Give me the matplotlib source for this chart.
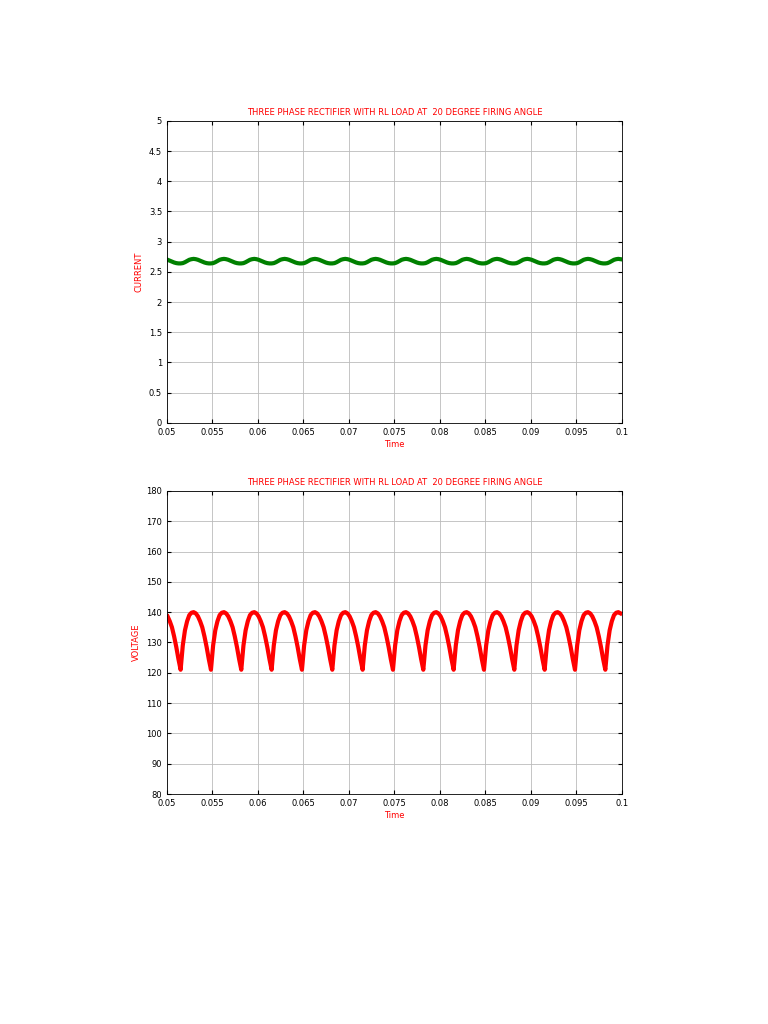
import numpy as np
import matplotlib.pyplot as plt

# one ripple cycle (phase from the cusp minimum), period ~1/300 s
period = 1 / 300.0
t_first_min = 0.0515
volt_cycle = [121, 129, 134, 137, 139, 139.8, 140, 139.6, 138.6, 137, 135, 132, 128.5, 124.5, 121]
curr_cycle = [2.64, 2.645, 2.66, 2.68, 2.70, 2.71, 2.715, 2.71, 2.70, 2.685, 2.67, 2.655, 2.645, 2.64, 2.64]

title = 'THREE PHASE RECTIFIER WITH RL LOAD AT  20 DEGREE FIRING ANGLE'
xticks = [0.05, 0.055, 0.06, 0.065, 0.07, 0.075, 0.08, 0.085, 0.09, 0.095, 0.1]
xlabels = ['0.05', '0.055', '0.06', '0.065', '0.07', '0.075', '0.08', '0.085', '0.09', '0.095', '0.1']


def build(cycle):
    ph = np.linspace(0, 1, len(cycle))
    ts, vs = [], []
    for k in range(-1, 16):
        t0 = t_first_min + k * period
        ts.extend(t0 + ph[:-1] * period)
        vs.extend(cycle[:-1])
    ts = np.array(ts)
    vs = np.array(vs)
    m = (ts >= 0.05) & (ts <= 0.1)
    return ts[m], vs[m]


fig = plt.figure(figsize=(7.68, 10.24), dpi=100)
ax1 = fig.add_axes([0.2174, 0.587, 0.5925, 0.295])
ax2 = fig.add_axes([0.2174, 0.2246, 0.5925, 0.296])

t, c = build(curr_cycle)
ax1.plot(t, c, color='green', lw=3)
ax1.set_ylim(0, 5)
ax1.set_yticks(np.arange(0, 5.01, 0.5))
ax1.set_yticklabels(['0', '0.5', '1', '1.5', '2', '2.5', '3', '3.5', '4', '4.5', '5'])
ax1.set_ylabel('CURRENT', color='red', fontsize=6)

t, v = build(volt_cycle)
ax2.plot(t, v, color='red', lw=3)
ax2.set_ylim(80, 180)
ax2.set_yticks(np.arange(80, 181, 10))
ax2.set_ylabel('VOLTAGE', color='red', fontsize=6)

for ax in (ax1, ax2):
    ax.set_xlim(0.05, 0.1)
    ax.set_xticks(xticks)
    ax.set_xticklabels(xlabels)
    ax.grid(True, color='#bbbbbb', lw=0.6)
    ax.tick_params(direction='in', top=True, right=True, labelsize=6, length=3)
    ax.set_title(title, color='red', fontsize=6, pad=4)
    ax.set_xlabel('Time', color='red', fontsize=6, labelpad=2)
    for s in ax.spines.values():
        s.set_linewidth(0.6)

fig.savefig('out.png', dpi=100)
